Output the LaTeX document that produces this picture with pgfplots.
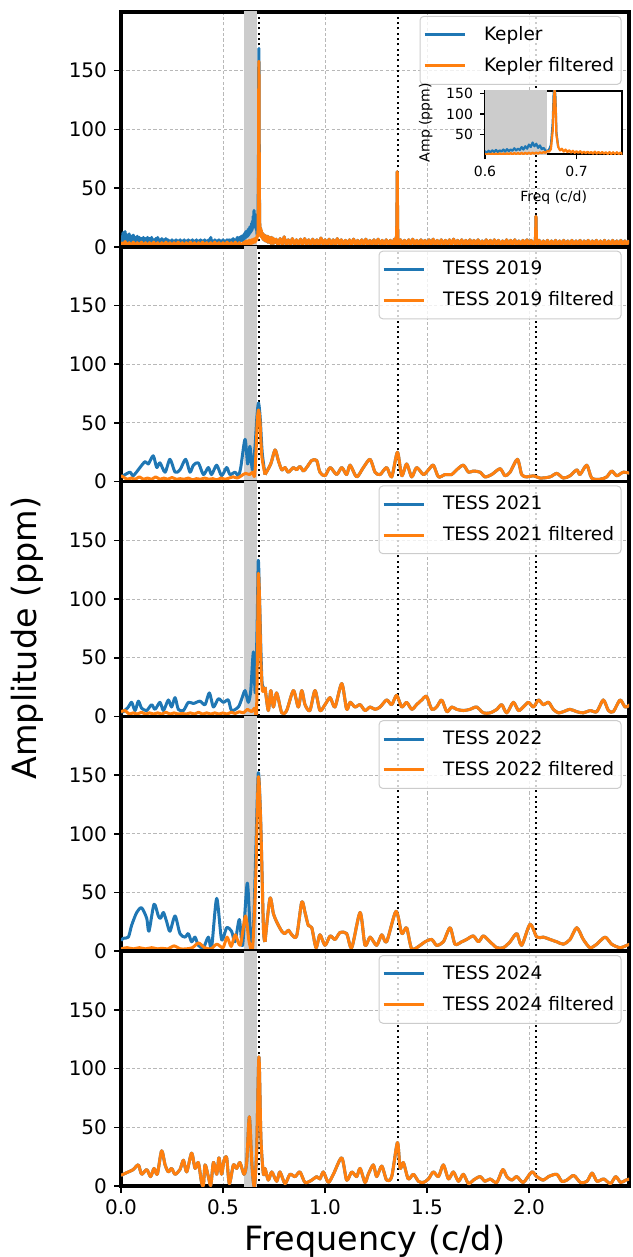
\documentclass[border=0pt]{standalone}
\usepackage{fontspec}
\setmainfont{DejaVu Sans}
\usepackage{pgfplots}
\usepackage{pgfplotstable}
\pgfplotsset{compat=1.18}

\definecolor{tabblue}{HTML}{1F77B4}
\definecolor{taborange}{HTML}{FF7F0E}

% ---------------- Kepler periodogram ----------------
\pgfplotstableread[row sep=\\]{
x y\\
0.000 9\\0.005 4\\0.010 12\\0.015 5\\0.020 13\\0.025 4\\0.030 10\\0.035 3\\0.040 11\\0.045 4\\
0.050 9\\0.055 3\\0.060 10\\0.065 4\\0.070 8\\0.075 3\\0.080 9\\0.085 2\\0.090 8\\0.095 4\\
0.100 7\\0.105 3\\0.110 8\\0.115 2\\0.120 7\\0.125 4\\0.130 8\\0.135 3\\0.140 7\\0.145 2\\
0.150 8\\0.155 3\\0.160 6\\0.165 2\\0.170 7\\0.175 3\\0.180 8\\0.185 2\\0.190 6\\0.195 3\\
0.200 7\\0.205 2\\0.210 6\\0.215 3\\0.220 7\\0.225 2\\0.230 6\\0.235 3\\0.240 5\\0.245 2\\
0.250 6\\0.255 3\\0.260 5\\0.265 2\\0.270 6\\0.275 2\\0.280 5\\0.285 3\\0.290 6\\0.295 2\\
0.300 5\\0.305 3\\0.310 6\\0.315 2\\0.320 5\\0.325 3\\0.330 6\\0.335 2\\0.340 5\\0.345 3\\
0.350 6\\0.355 2\\0.360 5\\0.365 3\\0.370 6\\0.375 2\\0.380 5\\0.385 3\\0.390 6\\0.395 2\\
0.400 5\\0.405 3\\0.410 6\\0.415 2\\0.420 5\\0.425 3\\0.430 6\\0.435 2\\0.440 8\\0.445 3\\
0.450 5\\0.455 2\\0.460 6\\0.465 3\\0.470 5\\0.475 2\\0.480 6\\0.485 3\\0.490 5\\0.495 2\\
0.500 6\\0.505 3\\0.510 5\\0.515 2\\0.520 6\\0.525 3\\0.530 6\\0.535 2\\0.540 6\\0.545 3\\
0.550 7\\0.555 3\\0.560 6\\0.565 4\\0.570 8\\0.575 4\\0.580 8\\0.585 5\\0.590 9\\0.595 5\\
0.600 10\\0.602 6\\0.604 11\\0.606 7\\0.608 12\\0.610 8\\0.612 13\\0.614 8\\0.616 12\\0.618 9\\
0.620 14\\0.622 9\\0.624 15\\0.626 10\\0.628 14\\0.630 11\\0.632 17\\0.634 12\\0.636 16\\0.638 13\\
0.640 20\\0.642 14\\0.644 22\\0.646 16\\0.648 26\\0.650 20\\0.652 31\\0.654 22\\0.656 28\\0.658 18\\
0.660 24\\0.662 15\\0.664 18\\0.666 12\\0.668 10\\0.670 14\\0.672 25\\0.674 80\\0.675 150\\0.676 169\\
0.677 140\\0.678 55\\0.680 20\\
}\keplerraw

\pgfplotstableread[row sep=\\]{
x y\\
0.00 4\\0.01 1\\0.02 4.5\\0.03 1\\0.04 3.5\\0.05 1\\0.06 4\\0.07 1\\0.08 3.5\\0.09 1\\
0.10 4\\0.11 1\\0.12 3.5\\0.13 1\\0.14 3.5\\0.15 1\\0.16 4\\0.17 1\\0.18 3.5\\0.19 1\\
0.20 3.5\\0.21 1\\0.22 4\\0.23 1\\0.24 3.5\\0.25 1\\0.26 3.5\\0.27 1\\0.28 4\\0.29 1\\
0.30 3.5\\0.31 1\\0.32 3.5\\0.33 1\\0.34 4\\0.35 1\\0.36 3.5\\0.37 1\\0.38 3.5\\0.39 1\\
0.40 4\\0.41 1\\0.42 3.5\\0.43 1\\0.44 3.5\\0.45 1\\0.46 4\\0.47 1\\0.48 3.5\\0.49 1\\
0.50 3.5\\0.51 1\\0.52 4\\0.53 1\\0.54 3.5\\0.55 1\\0.56 4\\0.57 1\\0.58 3.5\\0.59 1.5\\
0.600 3.5\\0.602 1.5\\0.604 4\\0.606 2\\0.608 4.5\\0.610 2\\0.612 4.5\\0.614 2\\0.616 5\\0.618 2\\
0.620 4.5\\0.622 2.5\\0.624 5\\0.626 2.5\\0.628 5.5\\0.630 2.5\\0.632 5.5\\0.634 3\\0.636 5.5\\0.638 3\\
0.640 6\\0.642 3\\0.644 6\\0.646 3.5\\0.648 6.5\\0.650 3.5\\0.652 6.5\\0.654 4\\0.656 7\\0.658 4\\
0.660 7.5\\0.662 5\\0.664 8\\0.666 6\\0.668 10\\0.670 9\\0.672 15\\0.674 60\\0.675 130\\0.676 158\\
0.677 130\\0.678 50\\0.680 20\\0.682 12\\0.684 16\\0.686 9\\0.688 14\\0.690 8\\0.692 12\\0.694 7\\
0.696 11\\0.698 6\\0.700 10\\0.702 6\\0.704 10\\0.706 5\\0.708 9\\0.710 5\\0.712 9\\0.714 5\\
0.716 8\\0.718 4\\0.720 9\\0.722 4\\0.724 8\\0.726 4\\0.728 8\\0.730 4\\0.732 7.5\\0.734 3\\
0.736 8\\0.738 3\\0.740 7.5\\0.742 3\\0.744 7.5\\0.746 3\\0.748 7\\0.750 3\\
0.76 6.5\\0.77 1.5\\0.78 7\\0.79 2\\0.80 8.5\\0.81 1.5\\0.82 6\\0.83 2\\0.84 7\\0.85 1.5\\
0.86 6\\0.87 2\\0.88 6.5\\0.89 1.5\\0.90 7\\0.91 2\\0.92 6\\0.93 1.5\\0.94 6.5\\0.95 2\\
0.96 6\\0.97 1.5\\0.98 7.5\\0.99 2\\1.00 6\\1.01 1.5\\1.02 6.5\\1.03 2\\1.04 6\\1.05 1.5\\
1.06 7\\1.07 2\\1.08 6\\1.09 1.5\\1.10 5.5\\1.11 2\\1.12 6\\1.13 1.5\\1.14 6.5\\1.15 2\\
1.16 5.5\\1.17 1.5\\1.18 6\\1.19 2\\1.20 6.5\\1.21 1.5\\1.22 5.5\\1.23 2\\1.24 6\\1.25 1.5\\
1.26 6.5\\1.27 2\\1.28 5.5\\1.29 1.5\\1.30 6\\1.31 2\\1.32 5.5\\1.33 1.5\\1.34 6.5\\1.345 2\\
1.350 7\\1.352 20\\1.354 64\\1.356 18\\1.358 5\\1.36 2\\1.37 6\\1.38 1.5\\1.39 5.5\\1.40 2\\
1.41 6\\1.42 1.5\\1.43 6.5\\1.44 2\\1.45 5.5\\1.46 1.5\\1.47 6\\1.48 2\\1.49 5.5\\1.50 1.5\\
1.51 6\\1.52 2\\1.53 6.5\\1.54 1.5\\1.55 5.5\\1.56 2\\1.57 6\\1.58 1.5\\1.59 5.5\\1.60 2\\
1.61 6\\1.62 1.5\\1.63 6.5\\1.64 2\\1.65 5.5\\1.66 1.5\\1.67 6\\1.68 2\\1.69 5.5\\1.70 1.5\\
1.71 6\\1.72 2\\1.73 5.5\\1.74 1.5\\1.75 6\\1.76 2\\1.77 5\\1.78 1.5\\1.79 6\\1.80 2\\
1.81 5.5\\1.82 1.5\\1.83 6\\1.84 2\\1.85 5.5\\1.86 1.5\\1.87 5\\1.88 2\\1.89 6\\1.90 1.5\\
1.91 5.5\\1.92 2\\1.93 6\\1.94 1.5\\1.95 5\\1.96 2\\1.97 5.5\\1.98 1.5\\1.99 6\\2.00 2\\
2.01 5.5\\2.02 1.5\\2.030 5\\2.032 9\\2.034 26\\2.036 8\\2.04 2\\2.05 5.5\\2.06 1.5\\2.07 5\\
2.08 2\\2.09 5.5\\2.10 1.5\\2.11 5\\2.12 2\\2.13 5.5\\2.14 1.5\\2.15 5\\2.16 2\\2.17 5.5\\
2.18 1.5\\2.19 5\\2.20 2\\2.21 5.5\\2.22 1.5\\2.23 5\\2.24 2\\2.25 5.5\\2.26 1.5\\2.27 5\\
2.28 2\\2.29 5.5\\2.30 1.5\\2.31 5\\2.32 2\\2.33 5.5\\2.34 1.5\\2.35 5\\2.36 2\\2.37 5.5\\
2.38 1.5\\2.39 5\\2.40 2\\2.41 5.5\\2.42 1.5\\2.43 5\\2.44 2\\2.45 5.5\\2.46 1.5\\2.47 5\\
2.48 2\\2.49 5.5\\
}\keplerfilt

% ---------------- TESS 2019 ----------------
\pgfplotstableread[row sep=\\]{
x y\\
0 4\\0.011 5\\0.044 8\\0.060 5\\0.093 12\\0.118 17\\0.134 15\\0.158 22\\0.175 12\\0.191 16\\
0.216 8\\0.240 19\\0.265 8\\0.289 10\\0.317 19\\0.338 8\\0.355 14\\0.379 16\\0.404 6\\0.428 12\\
0.444 6\\0.469 14\\0.493 5\\0.518 12\\0.534 6\\0.559 8\\0.575 5\\0.587 12\\0.608 36\\0.621 15\\
0.632 30\\0.644 10\\0.657 30\\0.666 55\\0.674 67\\0.682 55\\0.692 25\\0.706 6\\
}\rawA
\pgfplotstableread[row sep=\\]{
x y\\
0 5\\0.011 4\\0.03 2\\0.05 3\\0.07 2\\0.09 4\\0.11 2\\0.13 3\\0.15 2\\0.17 4\\0.19 2\\0.21 3\\
0.23 2\\0.25 3.5\\0.27 2\\0.29 2.5\\0.31 2\\0.33 3\\0.35 1.5\\0.37 2.5\\0.39 2\\0.41 3\\0.43 2\\
0.45 2.5\\0.47 1.5\\0.49 3\\0.51 2\\0.53 3\\0.55 4\\0.57 3\\0.59 5\\0.61 7\\0.63 6\\0.645 8\\
0.655 5\\0.663 30\\0.668 52\\0.674 61\\0.681 52\\0.690 22\\0.706 6\\
}\filtA
\pgfplotstableread[row sep=\\]{
x y\\
0.706 6\\0.734 15\\0.755 27\\0.771 18\\0.788 10\\0.804 12\\0.820 8\\0.845 12\\0.861 10\\0.877 13\\
0.894 9\\0.910 12\\0.935 18\\0.959 18\\0.975 8\\1.000 5\\1.025 12\\1.057 6\\1.082 12\\1.106 6\\
1.123 14\\1.155 4\\1.188 12\\1.221 19\\1.245 8\\1.270 6\\1.302 12\\1.327 4\\1.355 25\\1.376 5\\
1.400 15\\1.425 4\\1.449 12\\1.482 6\\1.507 10\\1.531 14\\1.556 4\\1.588 6\\1.621 6\\1.645 10\\
1.678 14\\1.703 8\\1.727 9\\1.760 8\\1.784 4\\1.817 6\\1.858 11\\1.882 5\\1.907 8\\1.943 19\\
1.964 6\\1.989 4\\2.022 5\\2.054 3\\2.103 4\\2.136 7\\2.168 3\\2.201 5\\2.234 10\\2.250 6\\
2.283 14\\2.307 3\\2.348 2\\2.381 4\\2.405 9\\2.430 5\\2.462 8\\2.495 7\\
}\sharedA

% ---------------- TESS 2021 ----------------
\pgfplotstableread[row sep=\\]{
x y\\
0 4\\0.011 4\\0.036 8\\0.052 12\\0.069 5\\0.085 13\\0.101 7\\0.126 5\\0.150 10\\0.167 6\\
0.191 12\\0.208 5\\0.232 14\\0.248 8\\0.265 16\\0.281 6\\0.306 5\\0.330 12\\0.355 11\\0.387 13\\
0.412 10\\0.433 20\\0.453 8\\0.477 15\\0.502 12\\0.526 14\\0.542 5\\0.575 8\\0.592 15\\0.608 22\\
0.624 12\\0.636 22\\0.649 55\\0.658 20\\0.667 75\\0.673 133\\0.680 95\\0.691 30\\0.706 25\\
}\rawB
\pgfplotstableread[row sep=\\]{
x y\\
0 4\\0.02 5\\0.04 2\\0.06 3\\0.08 2\\0.10 3.5\\0.12 2\\0.14 3\\0.16 2\\0.18 3\\0.20 2\\0.22 3.5\\
0.24 2\\0.26 3\\0.28 2\\0.30 2.5\\0.32 2\\0.34 3\\0.36 2\\0.38 3.5\\0.40 2\\0.42 3\\0.44 2\\
0.46 3\\0.48 2\\0.50 3\\0.52 2\\0.54 3.5\\0.56 2.5\\0.58 4\\0.60 3\\0.62 6\\0.64 4\\0.655 7\\
0.664 2\\0.669 60\\0.673 121\\0.679 100\\0.685 50\\0.693 22\\0.706 25\\
}\filtB
\pgfplotstableread[row sep=\\]{
x y\\
0.706 25\\0.722 5\\0.734 22\\0.747 8\\0.763 20\\0.788 3\\0.812 5\\0.845 22\\0.869 8\\0.886 22\\
0.902 10\\0.926 5\\0.951 22\\0.975 5\\1.000 10\\1.025 16\\1.049 8\\1.082 28\\1.106 6\\1.123 12\\
1.147 8\\1.172 10\\1.196 5\\1.221 8\\1.245 6\\1.270 8\\1.302 14\\1.327 10\\1.351 18\\1.376 8\\
1.400 12\\1.425 6\\1.449 10\\1.474 14\\1.498 17\\1.523 6\\1.547 8\\1.572 14\\1.597 4\\1.621 8\\
1.645 6\\1.678 5\\1.711 6\\1.743 8\\1.776 3\\1.809 3\\1.842 6\\1.866 10\\1.891 3\\1.923 12\\
1.948 5\\1.972 8\\1.997 12\\2.022 8\\2.046 14\\2.070 10\\2.096 12\\2.119 6\\2.144 3\\2.168 4\\
2.201 6\\2.234 4\\2.266 3\\2.299 5\\2.332 4\\2.364 14\\2.389 5\\2.413 4\\2.446 14\\2.471 8\\
2.495 10\\
}\sharedB

% ---------------- TESS 2022 ----------------
\pgfplotstableread[row sep=\\]{
x y\\
0 9\\0.011 11\\0.036 12\\0.052 22\\0.077 33\\0.101 37\\0.126 28\\0.137 17\\0.162 40\\0.183 30\\
0.194 28\\0.208 33\\0.224 25\\0.240 17\\0.265 30\\0.289 15\\0.314 12\\0.330 15\\0.346 8\\0.363 12\\
0.379 5\\0.404 3\\0.428 12\\0.444 3\\0.469 45\\0.493 10\\0.518 20\\0.542 17\\0.559 8\\0.580 27\\
0.596 5\\0.619 58\\0.636 10\\0.649 20\\0.660 80\\0.673 152\\0.685 110\\0.698 20\\0.706 8\\
}\rawC
\pgfplotstableread[row sep=\\]{
x y\\
0 2\\0.03 3\\0.06 2\\0.09 3\\0.12 2\\0.15 3\\0.18 2\\0.20 2.5\\0.23 2\\0.26 4.5\\0.29 2\\0.32 2\\
0.35 3\\0.38 7\\0.41 3\\0.44 2\\0.47 6\\0.50 3\\0.52 12\\0.54 4\\0.56 14\\0.585 5\\0.61 30\\
0.628 8\\0.645 3\\0.660 60\\0.673 148\\0.685 108\\0.698 20\\0.706 8\\
}\filtC
\pgfplotstableread[row sep=\\]{
x y\\
0.706 8\\0.730 45\\0.747 32\\0.763 25\\0.788 17\\0.804 15\\0.820 18\\0.837 14\\0.861 13\\0.886 42\\
0.902 33\\0.918 22\\0.935 20\\0.956 3\\0.975 14\\1.000 5\\1.025 13\\1.049 10\\1.074 16\\1.106 15\\
1.131 3\\1.172 33\\1.196 5\\1.221 12\\1.253 5\\1.278 14\\1.302 8\\1.348 34\\1.376 15\\1.400 20\\
1.425 2\\1.466 5\\1.490 8\\1.523 10\\1.547 5\\1.580 8\\1.613 20\\1.637 6\\1.670 8\\1.694 10\\
1.727 13\\1.752 8\\1.776 13\\1.809 8\\1.842 3\\1.874 3\\1.907 8\\1.940 15\\1.964 5\\2.005 23\\
2.038 12\\2.070 12\\2.103 10\\2.136 8\\2.168 6\\2.201 10\\2.234 20\\2.266 10\\2.299 3\\2.332 6\\
2.373 12\\2.405 6\\2.446 3\\2.479 5\\2.495 6\\
}\sharedC

% ---------------- TESS 2024 ----------------
\pgfplotstableread[row sep=\\]{
x y\\
0 9\\0.011 10\\0.036 12\\0.060 14\\0.085 18\\0.101 10\\0.126 14\\0.145 8\\0.162 15\\0.178 10\\
0.199 30\\0.216 18\\0.232 12\\0.248 15\\0.265 10\\0.289 14\\0.306 22\\0.322 12\\0.346 28\\0.363 15\\
0.379 20\\0.395 3\\0.404 0.5\\0.412 18\\0.428 8\\0.440 0.5\\0.453 20\\0.469 10\\0.480 24\\0.493 10\\
0.505 22\\0.518 24\\0.531 2\\0.551 18\\0.567 15\\0.583 20\\0.603 10\\0.616 20\\0.629 59\\0.641 20\\
0.649 3\\0.655 1\\0.665 30\\0.676 110\\0.686 40\\0.698 10\\0.706 15\\0.722 5\\0.739 12\\0.763 4\\
0.779 12\\0.804 2\\0.828 10\\0.853 8\\0.877 12\\0.902 3\\0.935 5\\0.959 8\\0.975 6\\0.992 12\\
1.016 3\\1.041 10\\1.082 24\\1.106 5\\1.131 12\\1.155 8\\1.172 15\\1.196 3\\1.212 10\\1.237 18\\
1.253 8\\1.278 17\\1.302 5\\1.327 8\\1.355 37\\1.368 15\\1.384 20\\1.408 6\\1.433 10\\1.458 4\\
1.482 3\\1.507 6\\1.531 12\\1.556 8\\1.580 18\\1.605 6\\1.629 12\\1.654 4\\1.678 10\\1.703 2\\
1.727 5\\1.760 8\\1.784 4\\1.809 6\\1.842 3\\1.871 14\\1.891 8\\1.915 5\\1.940 8\\1.972 3\\
2.013 12\\2.038 8\\2.070 5\\2.095 8\\2.136 10\\2.160 4\\2.185 5\\2.219 9\\2.252 3\\2.284 4\\
2.309 11\\2.333 4\\2.366 6\\2.399 2\\2.425 8\\2.449 3\\2.474 5\\2.495 6\\
}\tessD

\pgfplotsset{
  panel/.style={
    scale only axis, width=254pt, height=117.4pt,
    xmin=0, xmax=2.49, ymin=0, ymax=200,
    xtick={0,0.5,1,1.5,2}, ytick={0,50,100,150},
    grid=major,
    grid style={dash pattern=on 1.6pt off 1.1pt, line width=0.4pt, color=black!28},
    axis line style={line width=1.8pt},
    tick style={line width=0.8pt, black},
    major tick length=3.5pt, tick align=outside,
    xtick pos=bottom, ytick pos=left,
    /pgf/number format/assume math mode=true,
    ticklabel style={font=\fontsize{10}{12}\selectfont},
    xticklabel style={/pgf/number format/.cd, fixed, fixed zerofill, precision=1},
    legend cell align=left,
    legend style={at={(rel axis cs:1,1)}, anchor=north east,
      xshift=-3.7pt, yshift=-1.9pt,
      draw=black!20, line width=0.5pt, rounded corners=2pt,
      fill=white, fill opacity=0.8, text opacity=1, draw opacity=1,
      font=\fontsize{9.25}{11}\selectfont,
      inner xsep=1.5pt, inner ysep=3pt, row sep=3pt, column sep=7pt},
    legend image code/.code={\draw[##1, line width=1.5pt] (0pt,0pt) -- (20pt,0pt);},
    every axis plot/.append style={line width=1.5pt, line join=round},
  },
  upper/.style={xticklabels={}, xtick style={draw=none}},
  tess/.style={smooth, tension=0.45},
  band/.style={draw=none, fill=black!20, forget plot},
  harm/.style={black, line width=1pt, dash pattern=on 1pt off 1.65pt, forget plot},
}

% the rotation frequency and its two harmonics, drawn behind the spectra
\newcommand{\harmonics}{%
  \addplot[harm] coordinates {(0.678,0) (0.678,200)};
  \addplot[harm] coordinates {(1.356,0) (1.356,200)};
  \addplot[harm] coordinates {(2.034,0) (2.034,200)};
}

\begin{document}
\begin{tikzpicture}
\path[use as bounding box] (0,0) rectangle (316pt,-628.5pt);

% ---- Kepler ----
\begin{axis}[panel, upper, at={(60.5pt,-6pt)}, anchor=north west]
\addplot[band] coordinates {(0.601,-5) (0.601,205) (0.667,205) (0.667,-5)} -- cycle;
\harmonics
\addplot[tabblue] table {\keplerraw};
\addlegendentry{Kepler}
\addplot[tabblue, forget plot, restrict x to domain=0.6795:2.5] table {\keplerfilt};
\addplot[taborange] table {\keplerfilt};
\addlegendentry{Kepler filtered}
\end{axis}

% ---- zoom on the main peak ----
\begin{axis}[scale only axis, width=68.65pt, height=31.65pt,
  at={(242.5pt,-45.5pt)}, anchor=north west,
  xmin=0.6, xmax=0.75, ymin=2.5, ymax=155.5,
  xtick={0.6,0.7}, ytick={50,100,150},
  axis background/.style={fill=white},
  axis line style={line width=1pt},
  tick style={line width=0.6pt, black}, major tick length=2.5pt, tick align=outside,
  xtick pos=bottom, ytick pos=left,
  /pgf/number format/assume math mode=true,
  ticklabel style={font=\fontsize{7}{8}\selectfont},
  xticklabel style={/pgf/number format/.cd, fixed, fixed zerofill, precision=1},
  label style={font=\fontsize{7}{8}\selectfont},
  xlabel={Freq (c/d)}, ylabel={Amp (ppm)},
  every axis plot/.append style={line width=1.1pt, line join=round}]
\addplot[band] coordinates {(0.6,-5) (0.6,205) (0.668,205) (0.668,-5)} -- cycle;
\addplot[tabblue] table {\keplerraw};
\addplot[taborange] table {\keplerfilt};
\end{axis}

% ---- TESS 2019 ----
\begin{axis}[panel, upper, at={(60.5pt,-123.4pt)}, anchor=north west]
\addplot[band] coordinates {(0.601,-5) (0.601,205) (0.667,205) (0.667,-5)} -- cycle;
\harmonics
\addplot[tabblue, tess] table {\rawA};
\addlegendentry{TESS 2019}
\addplot[tabblue, tess, forget plot] table {\sharedA};
\addplot[taborange, tess] table {\filtA};
\addlegendentry{TESS 2019 filtered}
\addplot[taborange, tess, forget plot] table {\sharedA};
\end{axis}

% ---- TESS 2021 ----
\begin{axis}[panel, upper, at={(60.5pt,-240.8pt)}, anchor=north west]
\addplot[band] coordinates {(0.601,-5) (0.601,205) (0.667,205) (0.667,-5)} -- cycle;
\harmonics
\addplot[tabblue, tess] table {\rawB};
\addlegendentry{TESS 2021}
\addplot[tabblue, tess, forget plot] table {\sharedB};
\addplot[taborange, tess] table {\filtB};
\addlegendentry{TESS 2021 filtered}
\addplot[taborange, tess, forget plot] table {\sharedB};
\end{axis}

% ---- TESS 2022 ----
\begin{axis}[panel, upper, at={(60.5pt,-358.2pt)}, anchor=north west]
\addplot[band] coordinates {(0.601,-5) (0.601,205) (0.667,205) (0.667,-5)} -- cycle;
\harmonics
\addplot[tabblue, tess] table {\rawC};
\addlegendentry{TESS 2022}
\addplot[tabblue, tess, forget plot] table {\sharedC};
\addplot[taborange, tess] table {\filtC};
\addlegendentry{TESS 2022 filtered}
\addplot[taborange, tess, forget plot] table {\sharedC};
\end{axis}

% ---- TESS 2024 ----
\begin{axis}[panel, at={(60.5pt,-475.6pt)}, anchor=north west]
\addplot[band] coordinates {(0.601,-5) (0.601,205) (0.667,205) (0.667,-5)} -- cycle;
\harmonics
\addplot[tabblue, tess] table {\tessD};
\addlegendentry{TESS 2024}
\addplot[taborange, tess] table {\tessD};
\addlegendentry{TESS 2024 filtered}
\end{axis}

\node[rotate=90, anchor=base, font=\fontsize{16.7}{20}\selectfont] at (18pt,-319pt) {Amplitude (ppm)};
\node[anchor=base, font=\fontsize{16.7}{20}\selectfont] at (187.5pt,-625pt) {Frequency (c/d)};
\end{tikzpicture}
\end{document}
